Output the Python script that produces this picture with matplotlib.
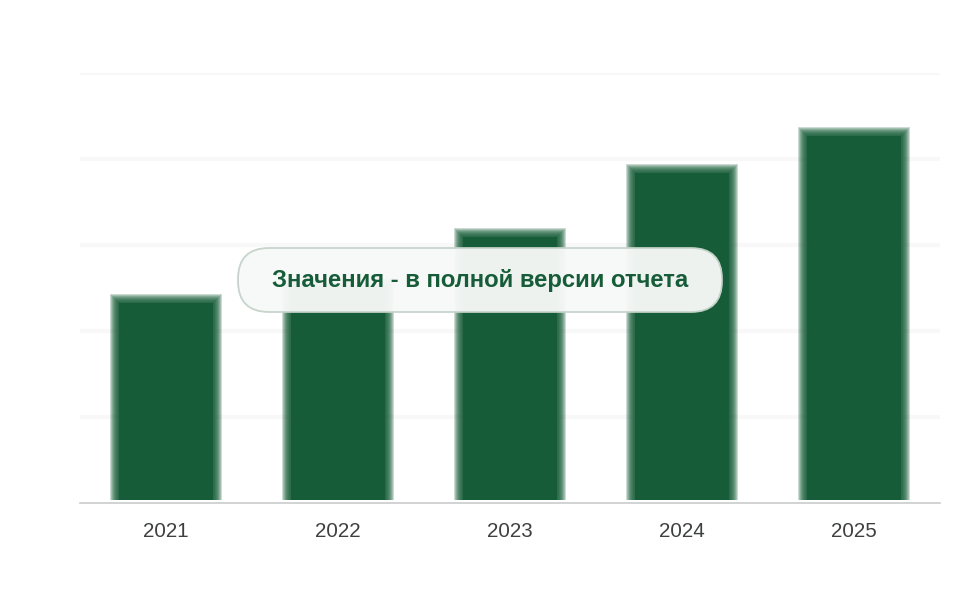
import matplotlib.pyplot as plt
from matplotlib.patches import FancyBboxPatch

years = ['2021', '2022', '2023', '2024', '2025']
values = [2.38, 2.57, 3.15, 3.90, 4.33]

bar_color = '#165c38'
grid_color = '#f8f8f8'

fig = plt.figure(figsize=(9.6, 6), dpi=100)
ax = fig.add_axes([80 / 960, 97 / 600, 860 / 960, 430 / 600])

x = list(range(len(years)))
px_x = 1 / 172
px_y = 1 / 86

# soft edges to mimic the blurred bars
for k in range(4, -5, -1):
    ax.bar(x, [v + k * px_y - 3 * px_y for v in values], bottom=3 * px_y,
           width=0.6 + 2 * k * px_x, color=bar_color, alpha=0.22,
           linewidth=0, zorder=2)
ax.bar(x, [v - 5 * px_y - 3 * px_y for v in values], bottom=3 * px_y,
       width=0.6 - 10 * px_x, color=bar_color, linewidth=0, zorder=3)

ax.set_xlim(-0.5, 4.5)
ax.set_ylim(0, 5)
ax.set_yticks([1, 2, 3, 4, 5])
ax.yaxis.grid(True, color=grid_color, linewidth=3, zorder=0)
ax.tick_params(axis='y', length=0, labelleft=False)
ax.set_xticks(x)
ax.set_xticklabels(years, fontsize=14.8, color='#3d403e', family='Liberation Sans')
ax.tick_params(axis='x', length=0, pad=13.5)
for s in ['top', 'right', 'left']:
    ax.spines[s].set_visible(False)
ax.spines['bottom'].set_color('#c8ccc9')
ax.spines['bottom'].set_linewidth(1.2)

# overlay label, in pixel units
over = fig.add_axes([0, 0, 1, 1], facecolor='none')
over.set_xlim(0, 960)
over.set_ylim(600, 0)
over.axis('off')
box = FancyBboxPatch((238, 248), 484, 64,
                     boxstyle='round,pad=0,rounding_size=31',
                     facecolor='#f7f9f8', alpha=0.96, edgecolor='#c5d3ca',
                     linewidth=1.3, zorder=10)
over.add_patch(box)
over.text(480, 280, 'Значения - в полной версии отчета',
          ha='center', va='center', fontsize=17.2, fontweight='bold',
          color='#165c38', family='Liberation Sans', zorder=11)

fig.savefig('out.png', dpi=100)
